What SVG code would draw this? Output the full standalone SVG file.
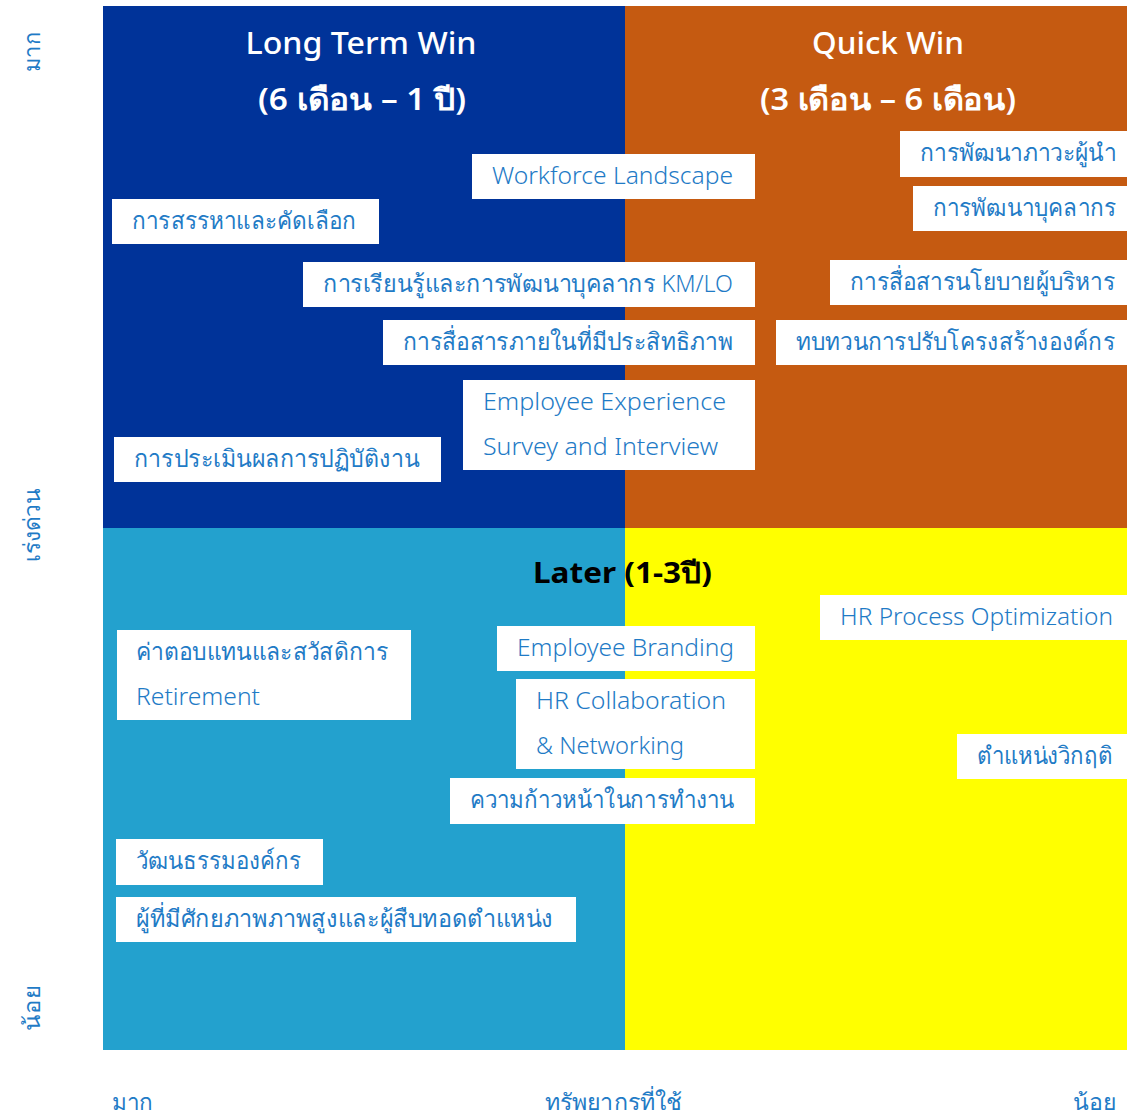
<svg xmlns="http://www.w3.org/2000/svg" width="1127" height="1116" viewBox="0 0 1127 1116">
<style>
.box{fill:#ffffff}
.t{font-family:"Noto Sans","DejaVu Sans",sans-serif;font-size:24px;fill:#1F7BC6;font-weight:300}
.ax{font-family:"Noto Sans","DejaVu Sans",sans-serif;font-size:23px;fill:#1F7BC6;font-weight:300}
.ttl{font-family:"Noto Sans","DejaVu Sans",sans-serif;font-size:30px;fill:#ffffff;text-anchor:middle;font-weight:500}
.ttlb{font-family:"Noto Sans","DejaVu Sans",sans-serif;font-size:30px;fill:#ffffff;text-anchor:middle;font-weight:600}
.later{font-family:"Noto Sans","DejaVu Sans",sans-serif;font-size:28px;fill:#000000;font-weight:bold}
</style>
<rect width="1127" height="1116" fill="#ffffff"/>
<g id="quadrants">
<rect x="103" y="6" width="522" height="522" fill="#003399"/>
<rect x="625" y="6" width="502" height="522" fill="#C55A11"/>
<rect x="103" y="528" width="522" height="522" fill="#23A1CE"/>
<rect x="625" y="528" width="502" height="522" fill="#FFFF00"/>
</g>
<g id="titles">
<text class="ttl" x="361" y="54" textLength="231" lengthAdjust="spacingAndGlyphs">Long Term Win</text>
<text class="ttlb" x="362" y="110" textLength="208" lengthAdjust="spacingAndGlyphs">(6 เดือน – 1 ปี)</text>
<text class="ttl" x="888" y="54" textLength="152" lengthAdjust="spacingAndGlyphs">Quick Win</text>
<text class="ttlb" x="888" y="110" textLength="256" lengthAdjust="spacingAndGlyphs">(3 เดือน – 6 เดือน)</text>
<text class="later" x="533" y="583" textLength="179" lengthAdjust="spacingAndGlyphs">Later (1-3ปี)</text>
</g>
<g id="axes">
<text class="ax" transform="translate(40,52) rotate(-90)" text-anchor="middle" textLength="40" lengthAdjust="spacingAndGlyphs">มาก</text>
<text class="ax" transform="translate(40,525) rotate(-90)" text-anchor="middle" textLength="74" lengthAdjust="spacingAndGlyphs">เร่งด่วน</text>
<text class="ax" transform="translate(40,1008) rotate(-90)" text-anchor="middle" textLength="45" lengthAdjust="spacingAndGlyphs">น้อย</text>
<text class="ax" x="112" y="1110" textLength="41" lengthAdjust="spacingAndGlyphs">มาก</text>
<text class="ax" x="545" y="1110" textLength="137" lengthAdjust="spacingAndGlyphs">ทรัพยากรที่ใช้</text>
<text class="ax" x="1073" y="1110" textLength="43" lengthAdjust="spacingAndGlyphs">น้อย</text>
</g>
<g id="n1"><rect class="box" x="472" y="154" width="283" height="45"/><text class="t" x="492" y="184" textLength="241" lengthAdjust="spacingAndGlyphs">Workforce Landscape</text></g>
<g id="n2"><rect class="box" x="900" y="131" width="227" height="46"/><text class="t" x="920" y="161" textLength="196" lengthAdjust="spacingAndGlyphs">การพัฒนาภาวะผู้นำ</text></g>
<g id="n3"><rect class="box" x="913" y="186" width="214" height="45"/><text class="t" x="933" y="216" textLength="183" lengthAdjust="spacingAndGlyphs">การพัฒนาบุคลากร</text></g>
<g id="n4"><rect class="box" x="112" y="199" width="267" height="45"/><text class="t" x="132" y="229" textLength="224" lengthAdjust="spacingAndGlyphs">การสรรหาและคัดเลือก</text></g>
<g id="n5"><rect class="box" x="303" y="262" width="452" height="45"/><text class="t" x="323" y="292" textLength="410" lengthAdjust="spacingAndGlyphs">การเรียนรู้และการพัฒนาบุคลากร KM/LO</text></g>
<g id="n6"><rect class="box" x="830" y="260" width="297" height="45"/><text class="t" x="850" y="290" textLength="265" lengthAdjust="spacingAndGlyphs">การสื่อสารนโยบายผู้บริหาร</text></g>
<g id="n7"><rect class="box" x="383" y="320" width="372" height="45"/><text class="t" x="403" y="350" textLength="330" lengthAdjust="spacingAndGlyphs">การสื่อสารภายในที่มีประสิทธิภาพ</text></g>
<g id="n8"><rect class="box" x="776" y="320" width="351" height="45"/><text class="t" x="796" y="350" textLength="319" lengthAdjust="spacingAndGlyphs">ทบทวนการปรับโครงสร้างองค์กร</text></g>
<g id="n9"><rect class="box" x="463" y="380" width="292" height="90"/><text class="t" x="483" y="410" textLength="243" lengthAdjust="spacingAndGlyphs">Employee Experience</text><text class="t" x="483" y="455" textLength="235" lengthAdjust="spacingAndGlyphs">Survey and Interview</text></g>
<g id="n10"><rect class="box" x="114" y="437" width="327" height="45"/><text class="t" x="134" y="467" textLength="285" lengthAdjust="spacingAndGlyphs">การประเมินผลการปฏิบัติงาน</text></g>
<g id="n11"><rect class="box" x="820" y="595" width="307" height="45"/><text class="t" x="840" y="625" textLength="273" lengthAdjust="spacingAndGlyphs">HR Process Optimization</text></g>
<g id="n12"><rect class="box" x="117" y="630" width="294" height="90"/><text class="t" x="136" y="660" textLength="252" lengthAdjust="spacingAndGlyphs">ค่าตอบแทนและสวัสดิการ</text><text class="t" x="136" y="705" textLength="124" lengthAdjust="spacingAndGlyphs">Retirement</text></g>
<g id="n13"><rect class="box" x="497" y="626" width="258" height="45"/><text class="t" x="517" y="656" textLength="217" lengthAdjust="spacingAndGlyphs">Employee Branding</text></g>
<g id="n14"><rect class="box" x="516" y="679" width="239" height="90"/><text class="t" x="536" y="709" textLength="190" lengthAdjust="spacingAndGlyphs">HR Collaboration</text><text class="t" x="536" y="754" textLength="148" lengthAdjust="spacingAndGlyphs">&amp; Networking</text></g>
<g id="n15"><rect class="box" x="957" y="734" width="170" height="45"/><text class="t" x="977" y="764" textLength="136" lengthAdjust="spacingAndGlyphs">ตำแหน่งวิกฤติ</text></g>
<g id="n16"><rect class="box" x="450" y="778" width="305" height="46"/><text class="t" x="470" y="808" textLength="264" lengthAdjust="spacingAndGlyphs">ความก้าวหน้าในการทำงาน</text></g>
<g id="n17"><rect class="box" x="116" y="839" width="207" height="46"/><text class="t" x="136" y="869" textLength="165" lengthAdjust="spacingAndGlyphs">วัฒนธรรมองค์กร</text></g>
<g id="n18"><rect class="box" x="116" y="897" width="460" height="45"/><text class="t" x="136" y="927" textLength="417" lengthAdjust="spacingAndGlyphs">ผู้ที่มีศักยภาพภาพสูงและผู้สืบทอดตำแหน่ง</text></g>
<g id="connectors"></g>
</svg>
